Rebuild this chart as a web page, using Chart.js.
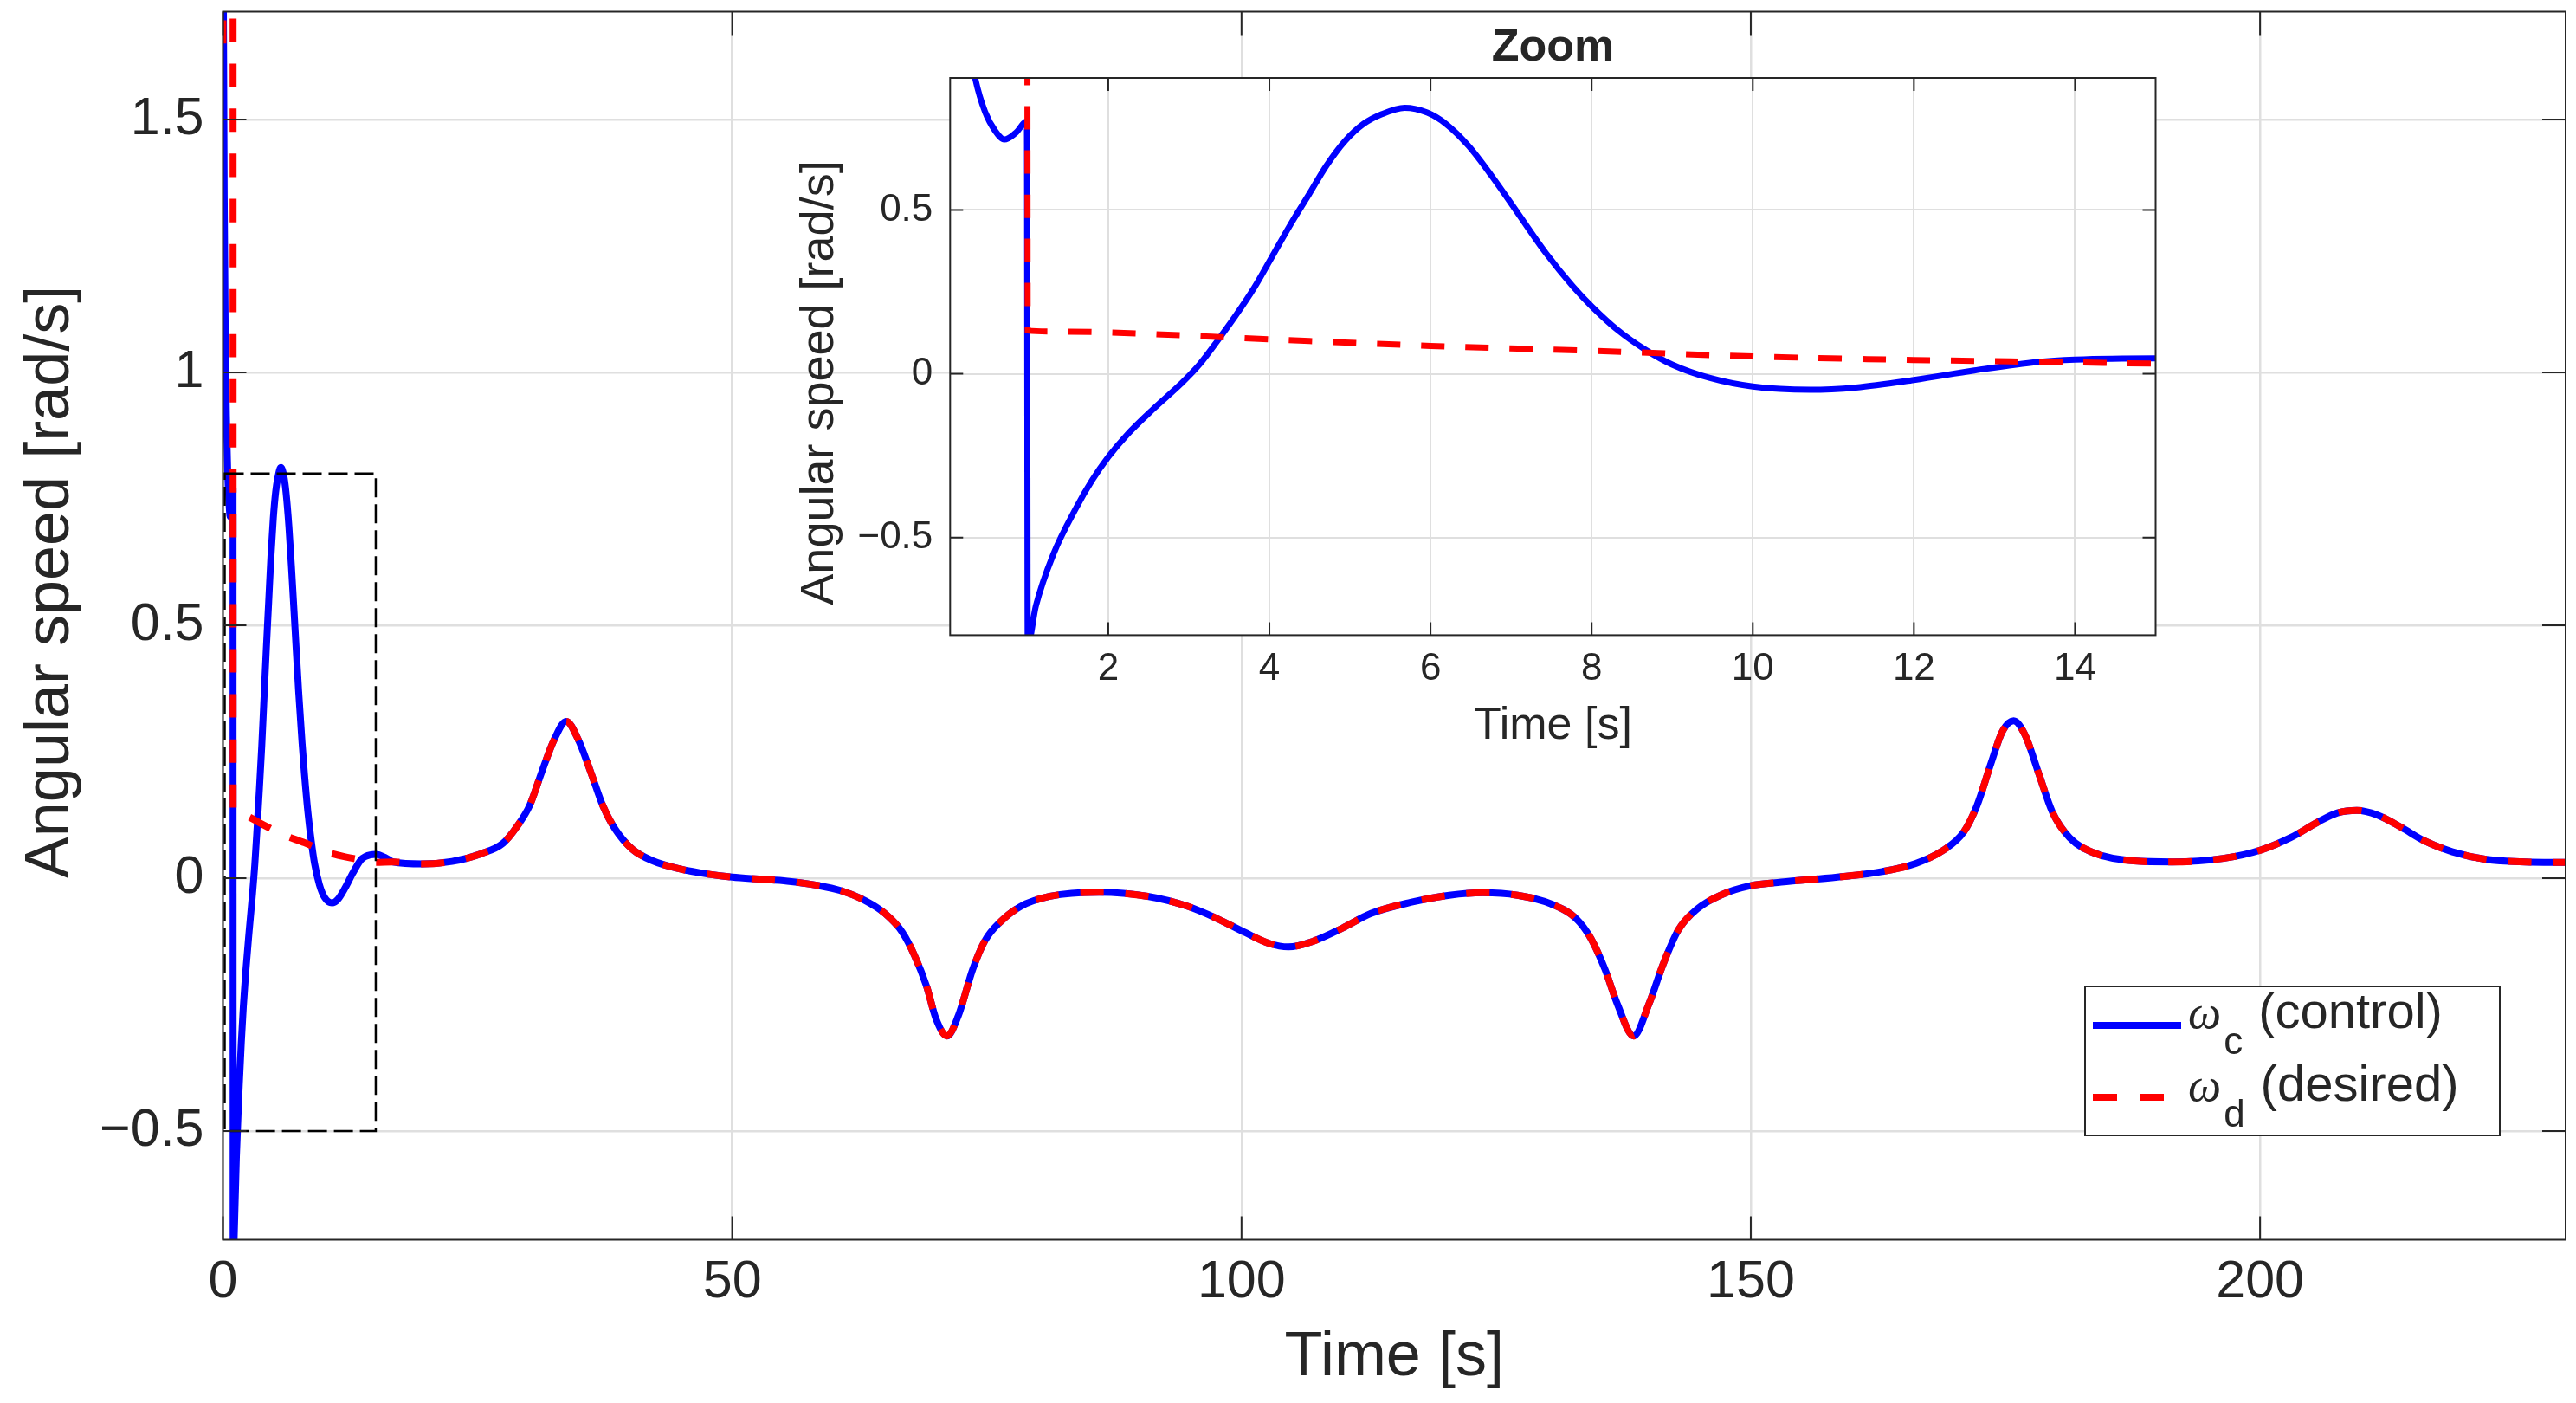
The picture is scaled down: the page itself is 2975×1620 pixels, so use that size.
<!DOCTYPE html>
<html>
<head>
<meta charset="utf-8">
<script src="https://cdn.jsdelivr.net/npm/chart.js@4.4.1/dist/chart.umd.min.js"></script>
<style>
  html, body { margin: 0; padding: 0; background: #fff; }
  #wrap { position: relative; width: 2975px; height: 1620px; }
  #main { position: absolute; left: 0; top: 0; width: 2975px; height: 1620px; }
  #inset { position: absolute; left: 880px; top: 0; width: 1640px; height: 900px; }
</style>
</head>
<body>
<div id="wrap">
  <canvas id="main" width="2975" height="1620"></canvas>
  <canvas id="inset" width="1640" height="900"></canvas>
</div>
<script>
'use strict';

// start-up transient (t in s, omega in rad/s)
var ctrlTimeStart = [0, 0.12, 0.22, 0.35, 0.47, 0.6, 0.71, 0.85, 0.99, 1.0, 1.1, 1.32, 1.6, 1.8, 2.0, 2.23, 2.57,
  2.9, 3.13, 3.36, 3.58, 3.81, 4.0, 4.26, 4.49, 4.71, 4.94, 5.17, 5.39, 5.68, 5.96, 6.19, 6.47, 6.75, 7.09,
  7.43, 7.77, 8.0, 8.33, 8.67, 9.0, 9.47, 10.0, 10.71, 11.28, 12.0, 12.75, 13.54, 14.0, 15.0, 16.0];
var ctrlStart = [1.95, 1.35, 1.08, 0.9, 0.8, 0.74, 0.715, 0.735, 0.77, -0.83, -0.71, -0.55, -0.41, -0.325, -0.254, -0.187, -0.105,
  -0.031, 0.028, 0.102, 0.177, 0.262, 0.343, 0.455, 0.547, 0.636, 0.711, 0.763, 0.792, 0.812, 0.797, 0.763, 0.696, 0.607, 0.488,
  0.369, 0.266, 0.206, 0.132, 0.073, 0.028, -0.013, -0.039, -0.049, -0.042, -0.019, 0.01, 0.036, 0.043, 0.047, 0.040];
var desTimeStart = [0, 0.04, 0.99, 1.0, 1.3, 2, 4, 6, 8, 10, 12, 14, 15];
var desStart = [1.65, 2.6, 2.6, 0.132, 0.129, 0.126, 0.105, 0.085, 0.07, 0.053, 0.042, 0.035, 0.031];

// after ~17 s both signals coincide
var tailTime = [16.7, 19.6, 22.5, 25.3, 27.5, 28.9, 30.1, 31.3, 32.5, 33.7, 34.9, 36.1, 37.3, 38.5, 40.2, 42.1,
  44.9, 47.8, 50, 52.6, 55.4, 58.3, 60.7, 63.1, 65.0, 66.7, 67.9, 69.1, 70.0, 71.1, 72.2, 73.6, 74.8, 76.4,
  78.3, 81.2, 86.0, 90.8, 94.6, 97.5, 100.3, 102.7, 104.6, 107.0, 109.9, 112.7, 116.6, 120.4, 123.7, 127.1,
  130.4, 132.8, 134.3, 135.7, 136.9, 138.5, 140.0, 141.4, 142.9, 144.8, 147.0, 150, 153.0, 158.5, 162.9,
  166.2, 168.9, 170.9, 172.2, 173.6, 174.7, 175.8, 176.9, 178.3, 179.6, 181.3, 183.8, 187.6, 191.4, 196.4,
  200.0, 203.0, 205.7, 207.6, 209.5, 211.5, 213.9, 216.1, 218.9, 222.2, 226.0, 230];
var tailValue = [0.032, 0.028, 0.033, 0.048, 0.069, 0.103, 0.143, 0.21, 0.273, 0.31, 0.273, 0.21, 0.143, 0.097, 0.057, 0.035,
  0.018, 0.0074, 0.002, -0.002, -0.006, -0.014, -0.025, -0.045, -0.07, -0.107, -0.153, -0.215, -0.278, -0.312, -0.272, -0.181, -0.124, -0.085,
  -0.056, -0.036, -0.028, -0.036, -0.055, -0.079, -0.107, -0.129, -0.136, -0.125, -0.099, -0.07, -0.048, -0.034, -0.029, -0.034,
  -0.051, -0.079, -0.119, -0.181, -0.249, -0.312, -0.249, -0.17, -0.102, -0.06, -0.034, -0.015, -0.008, 0.002, 0.013,
  0.029, 0.055, 0.091, 0.143, 0.228, 0.29, 0.311, 0.284, 0.205, 0.131, 0.08, 0.049, 0.034, 0.032, 0.039,
  0.055, 0.08, 0.111, 0.129, 0.134, 0.125, 0.1, 0.074, 0.052, 0.037, 0.032, 0.031];

var mainXTicks = [0, 50, 100, 150, 200];
var mainYTicks = [-0.5, 0, 0.5, 1, 1.5];
var insetXTicks = [2, 4, 6, 8, 10, 12, 14];
var insetYTicks = [-0.5, 0, 0.5];
var zoomBoxTime = [0, 15];
var zoomBoxValue = [-0.5, 0.8];

var seriesSymbol = ['\u03c9', '\u03c9'];
var seriesSub = ['c', 'd'];
var seriesNote = ['(control)', '(desired)'];
var xTitle = 'Time [s]';
var yTitle = 'Angular speed [rad/s]';
var insetTitle = 'Zoom';

var ink = '#262626',
  gridInk = '#dfdfdf',
  blue = '#0000ff',
  red = '#ff0000',
  sans = '"Liberation Sans", Arial, Helvetica, sans-serif';

Chart.defaults.font.family = sans;
Chart.defaults.color = ink;

var pairs = function(t, v) {
  return t.map(function(x, i) { return {x: x, y: v[i]}; });
};
var minusLabel = function(v) { return String(v).replace('-', '\u2212'); };
var setTicks = function(list) {
  return function(scale) { scale.ticks = list.map(function(v) { return {value: v}; }); };
};
// fixed axis size, and no extra room asked for half-labels at the ends
var fixSize = function(key, size) {
  return function(s) {
    s[key] = size;
    s.paddingTop = s.paddingBottom = s.paddingLeft = s.paddingRight = 0;
  };
};

var makeDatasets = function(width, dash) {
  return [{
    label: 'desired',
    data: pairs(desTimeStart, desStart).concat(pairs(tailTime, tailValue)),
    borderColor: red, borderWidth: width, borderDash: dash, borderCapStyle: 'butt',
    pointRadius: 0, cubicInterpolationMode: 'monotone', clip: 0, fill: false, order: 1
  }, {
    label: 'control',
    data: pairs(ctrlTimeStart, ctrlStart).concat(pairs(tailTime, tailValue)),
    borderColor: blue, borderWidth: width, borderJoinStyle: 'round',
    pointRadius: 0, cubicInterpolationMode: 'monotone', clip: 0, fill: false, order: 2
  }];
};

var makeScales = function(o) {
  return {
    x: {
      type: 'linear', min: o.xMin, max: o.xMax,
      afterBuildTicks: setTicks(o.xTicks),
      afterFit: fixSize('height', o.xHeight),
      grid: {color: gridInk, lineWidth: o.grid, drawTicks: false},
      border: {display: false},
      ticks: {font: {size: o.tickSize}, color: ink, padding: o.xPad, maxRotation: 0, callback: minusLabel}
    },
    y: {
      type: 'linear', min: o.yMin, max: o.yMax,
      afterBuildTicks: setTicks(o.yTicks),
      afterFit: fixSize('width', o.yWidth),
      grid: {color: gridInk, lineWidth: o.grid, drawTicks: false},
      border: {display: false},
      ticks: {font: {size: o.tickSize}, color: ink, padding: o.yPad, callback: minusLabel}
    }
  };
};

// box round the axes with MATLAB-style inward ticks on all four sides
var framePlugin = {
  id: 'frame',
  afterDatasetsDraw: function(chart, args, opts) {
    var a = chart.chartArea, ctx = chart.ctx, L = opts.tickLen,
      sx = chart.scales.x, sy = chart.scales.y;
    ctx.save();
    ctx.strokeStyle = ink;
    ctx.lineWidth = 2;
    ctx.setLineDash([]);
    ctx.beginPath();
    sx.ticks.forEach(function(t) {
      var px = sx.getPixelForValue(t.value);
      ctx.moveTo(px, a.bottom); ctx.lineTo(px, a.bottom - L);
      ctx.moveTo(px, a.top); ctx.lineTo(px, a.top + L);
    });
    sy.ticks.forEach(function(t) {
      var py = sy.getPixelForValue(t.value);
      ctx.moveTo(a.left, py); ctx.lineTo(a.left + L, py);
      ctx.moveTo(a.right, py); ctx.lineTo(a.right - L, py);
    });
    ctx.stroke();
    ctx.strokeRect(a.left, a.top, a.right - a.left, a.bottom - a.top);
    ctx.restore();
  }
};

var paperPlugin = {
  id: 'paper',
  beforeDraw: function(chart, args, opts) {
    var ctx = chart.ctx, a = chart.chartArea;
    ctx.save();
    ctx.fillStyle = '#fff';
    if (opts.whole) ctx.fillRect(0, 0, chart.width, chart.height);
    else ctx.fillRect(a.left, a.top, a.right - a.left, a.bottom - a.top);
    ctx.restore();
  }
};

// dashed rectangle marking the zoomed region
var zoomBoxPlugin = {
  id: 'zoomBox',
  afterDatasetsDraw: function(chart) {
    var ctx = chart.ctx, sx = chart.scales.x, sy = chart.scales.y;
    var x0 = sx.getPixelForValue(zoomBoxTime[0]), x1 = sx.getPixelForValue(zoomBoxTime[1]),
      y0 = sy.getPixelForValue(zoomBoxValue[1]), y1 = sy.getPixelForValue(zoomBoxValue[0]);
    ctx.save();
    ctx.strokeStyle = '#000';
    ctx.lineWidth = 2.5;
    ctx.setLineDash([22, 8]);
    ctx.strokeRect(x0 + 2, y0, x1 - x0 - 2, y1 - y0);
    ctx.restore();
  }
};

var mainTextPlugin = {
  id: 'mainText',
  afterDraw: function(chart) {
    var ctx = chart.ctx, a = chart.chartArea;
    ctx.save();
    ctx.fillStyle = ink;
    ctx.font = '72px ' + sans;
    ctx.textAlign = 'center';
    ctx.textBaseline = 'alphabetic';
    ctx.fillText(xTitle, (a.left + a.right) / 2, 1588);
    ctx.translate(79, 672);
    ctx.rotate(-Math.PI / 2);
    ctx.fillText(yTitle, 0, 0);
    ctx.restore();

    // legend with subscripted omegas
    var box = {l: 2408, t: 1139, r: 2887, b: 1311},
      rowLine = [1184, 1267], rowBase = [1187, 1271],
      colors = [blue, red], dashes = [[], [28, 26]];
    ctx.save();
    ctx.fillStyle = '#fff';
    ctx.fillRect(box.l, box.t, box.r - box.l, box.b - box.t);
    ctx.strokeStyle = ink;
    ctx.lineWidth = 2;
    ctx.strokeRect(box.l, box.t, box.r - box.l, box.b - box.t);
    for (var i = 0; i < 2; i++) {
      ctx.strokeStyle = colors[i];
      ctx.lineWidth = 8;
      ctx.lineCap = 'butt';
      ctx.setLineDash(dashes[i]);
      ctx.beginPath();
      ctx.moveTo(2417, rowLine[i]);
      ctx.lineTo(2519, rowLine[i]);
      ctx.stroke();
      ctx.setLineDash([]);
      ctx.fillStyle = ink;
      ctx.textAlign = 'left';
      ctx.textBaseline = 'alphabetic';
      ctx.font = 'italic 54px "Liberation Serif", serif';
      ctx.fillText(seriesSymbol[i], 2527, rowBase[i]);
      var x = 2527 + ctx.measureText(seriesSymbol[i]).width + 3;
      ctx.font = '44px ' + sans;
      ctx.fillText(seriesSub[i], x, rowBase[i] + 30);
      x += ctx.measureText(seriesSub[i]).width + 18;
      ctx.font = '58px ' + sans;
      ctx.fillText(seriesNote[i], x, rowBase[i]);
    }
    ctx.restore();
  }
};

var insetTextPlugin = {
  id: 'insetText',
  afterDraw: function(chart) {
    var ctx = chart.ctx, a = chart.chartArea, cx = (a.left + a.right) / 2;
    ctx.save();
    ctx.fillStyle = ink;
    ctx.textAlign = 'center';
    ctx.textBaseline = 'alphabetic';
    ctx.font = 'bold 52px ' + sans;
    ctx.fillText(insetTitle, cx, 70);
    ctx.font = '52px ' + sans;
    ctx.fillText(xTitle, cx, 853);
    ctx.translate(82, 442);
    ctx.rotate(-Math.PI / 2);
    ctx.font = '54px ' + sans;
    ctx.fillText(yTitle, 0, 0);
    ctx.restore();
  }
};

new Chart(document.getElementById('main'), {
  type: 'line',
  data: {datasets: makeDatasets(8, [27, 25])},
  options: {
    responsive: false, animation: false, devicePixelRatio: 1,
    events: [],
    layout: {padding: {left: 0, top: 13.5, right: 12, bottom: 0}},
    plugins: {legend: {display: false}, tooltip: {enabled: false}, frame: {tickLen: 27}, paper: {whole: true}},
    scales: makeScales({
      xMin: 0, xMax: 230, yMin: -0.715, yMax: 1.713,
      xTicks: mainXTicks, yTicks: mainYTicks,
      xHeight: 188.5, yWidth: 257.5, grid: 2.5, tickSize: 61, xPad: 13, yPad: 22
    })
  },
  plugins: [paperPlugin, zoomBoxPlugin, framePlugin, mainTextPlugin]
});

new Chart(document.getElementById('inset'), {
  type: 'line',
  data: {datasets: makeDatasets(7, [27, 24])},
  options: {
    responsive: false, animation: false, devicePixelRatio: 1,
    events: [],
    layout: {padding: {left: 0, top: 90, right: 30.5, bottom: 0}},
    plugins: {legend: {display: false}, tooltip: {enabled: false}, frame: {tickLen: 15}, paper: {whole: false}},
    scales: makeScales({
      xMin: 0.037, xMax: 15, yMin: -0.798, yMax: 0.903,
      xTicks: insetXTicks, yTicks: insetYTicks,
      xHeight: 166.6, yWidth: 217.3, grid: 2, tickSize: 44, xPad: 13, yPad: 20
    })
  },
  plugins: [paperPlugin, framePlugin, insetTextPlugin]
});
</script>
</body>
</html>
